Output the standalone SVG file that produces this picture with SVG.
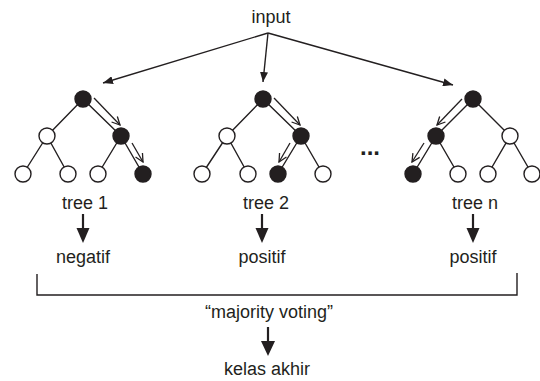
<svg xmlns="http://www.w3.org/2000/svg" width="540" height="381" viewBox="0 0 540 381">
  <style>
    text { font-family: "Liberation Sans", Arial, sans-serif; font-size: 18px; fill: #231f20; text-anchor: middle; }
    .edge { stroke: #231f20; stroke-width: 1.4; fill: none; }
    .on { fill: #231f20; stroke: #231f20; stroke-width: 1.4; }
    .off { fill: #ffffff; stroke: #231f20; stroke-width: 1.4; }
    .feed { stroke: #231f20; stroke-width: 1.4; fill: none; marker-end: url(#solid); }
    .walk { stroke: #231f20; stroke-width: 1.3; fill: none; marker-end: url(#open); }
    .down { stroke: #231f20; stroke-width: 2.2; fill: none; }
    .head { fill: #231f20; }
  </style>
  <defs>
    <marker id="solid" viewBox="0 0 10 8" refX="10" refY="4" markerWidth="10" markerHeight="8" markerUnits="userSpaceOnUse" orient="auto">
      <path d="M0,0 L10,4 L0,8 Z" fill="#231f20"/>
    </marker>
    <marker id="open" viewBox="0 0 10 10" refX="9" refY="5" markerWidth="10" markerHeight="10" markerUnits="userSpaceOnUse" orient="auto">
      <path d="M1,1 L9,5 L1,9" fill="none" stroke="#231f20" stroke-width="1.3"/>
    </marker>
  </defs>

  <g id="input">
    <text x="271" y="23">input</text>
  </g>

  <g id="connectors">
    <!-- input fan-out -->
    <line class="feed" x1="268" y1="33" x2="103" y2="83"/>
    <line class="feed" x1="268" y1="33" x2="263" y2="82"/>
    <line class="feed" x1="268" y1="33" x2="453" y2="85"/>

    <!-- tree edges -->
    <path class="edge" d="M83,99 L47,136 M83,99 L121,136 M47,136 L23,174 M47,136 L68,174 M121,136 L98,174 M121,136 L143,174"/>
    <path class="edge" d="M263,99 L227,136 M263,99 L301,136 M227,136 L202,174 M227,136 L248,174 M301,136 L278,174 M301,136 L323,174"/>
    <path class="edge" d="M473,99 L436,136 M473,99 L510,136 M436,136 L413,174 M436,136 L458,174 M510,136 L488,174 M510,136 L532,174"/>

    <!-- decision paths -->
    <line class="walk" x1="94" y1="98" x2="120" y2="125"/>
    <line class="walk" x1="132" y1="143" x2="143" y2="162"/>
    <line class="walk" x1="274" y1="98" x2="300" y2="125"/>
    <line class="walk" x1="290" y1="143" x2="279" y2="162"/>
    <line class="walk" x1="462" y1="99" x2="437" y2="125"/>
    <line class="walk" x1="424" y1="143" x2="412" y2="162"/>

    <!-- tree → class arrows -->
    <line class="down" x1="83" y1="214" x2="83" y2="230"/>
    <path class="head" d="M76.5,228 L89.5,228 L83,243 Z"/>
    <line class="down" x1="262" y1="214" x2="262" y2="230"/>
    <path class="head" d="M255.5,228 L268.5,228 L262,243 Z"/>
    <line class="down" x1="473" y1="214" x2="473" y2="230"/>
    <path class="head" d="M466.5,228 L479.5,228 L473,243 Z"/>

    <!-- voting bracket -->
    <path class="edge" d="M37,274 L37,295 L517,295 L517,273"/>

    <!-- voting → final class -->
    <line class="down" x1="268" y1="327" x2="268" y2="343"/>
    <path class="head" d="M261,341 L275,341 L268,356 Z"/>
  </g>

  <g id="tree1">
    <circle class="on" cx="83" cy="99" r="8"/>
    <circle class="off" cx="47" cy="136" r="8"/>
    <circle class="on" cx="121" cy="136" r="8"/>
    <circle class="off" cx="23" cy="174" r="8"/>
    <circle class="off" cx="68" cy="174" r="8"/>
    <circle class="off" cx="98" cy="174" r="8"/>
    <circle class="on" cx="143" cy="174" r="8"/>
    <text x="85" y="209">tree 1</text>
  </g>

  <g id="tree2">
    <circle class="on" cx="263" cy="99" r="8"/>
    <circle class="off" cx="227" cy="136" r="8"/>
    <circle class="on" cx="301" cy="136" r="8"/>
    <circle class="off" cx="202" cy="174" r="8"/>
    <circle class="off" cx="248" cy="174" r="8"/>
    <circle class="on" cx="278" cy="174" r="8"/>
    <circle class="off" cx="323" cy="174" r="8"/>
    <text x="266" y="209">tree 2</text>
  </g>

  <g id="ellipsis">
    <text x="370" y="155" style="font-weight:bold;font-size:24px">...</text>
  </g>

  <g id="treen">
    <circle class="on" cx="473" cy="99" r="8"/>
    <circle class="on" cx="436" cy="136" r="8"/>
    <circle class="off" cx="510" cy="136" r="8"/>
    <circle class="on" cx="413" cy="174" r="8"/>
    <circle class="off" cx="458" cy="174" r="8"/>
    <circle class="off" cx="488" cy="174" r="8"/>
    <circle class="off" cx="532" cy="174" r="8"/>
    <text x="475" y="209">tree n</text>
  </g>

  <g id="vote1"><text x="83" y="263">negatif</text></g>
  <g id="vote2"><text x="262" y="263">positif</text></g>
  <g id="voten"><text x="473" y="263">positif</text></g>

  <g id="voting"><text x="269" y="318">“majority voting”</text></g>
  <g id="final"><text x="267" y="375">kelas akhir</text></g>
</svg>
